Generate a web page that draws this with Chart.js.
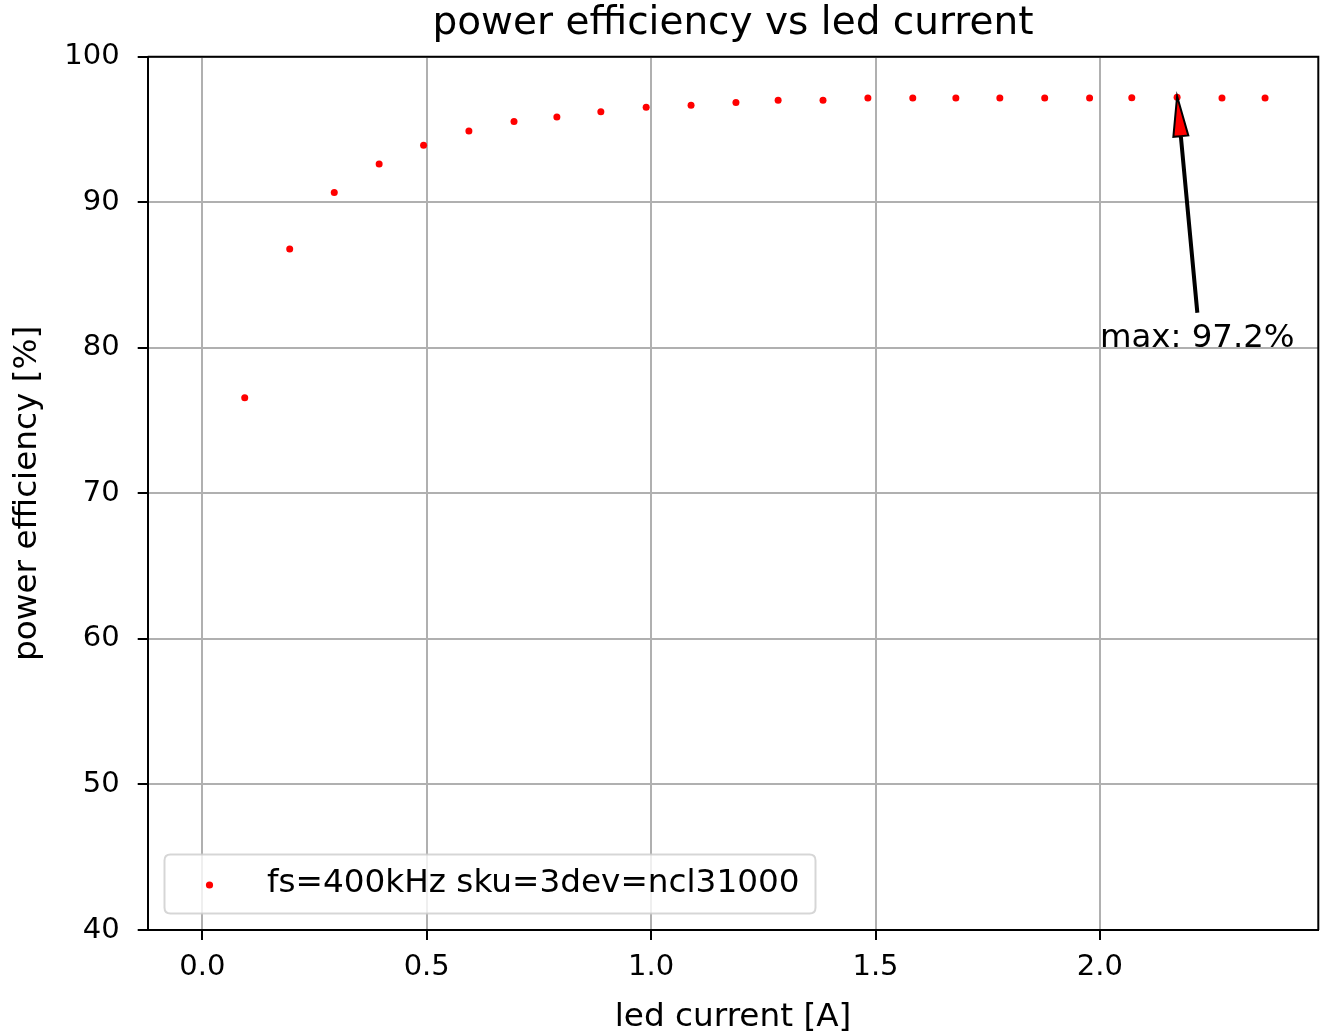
<!DOCTYPE html>
<html>
<head>
<meta charset="utf-8">
<script src="https://cdn.jsdelivr.net/npm/chart.js@4.4.1/dist/chart.umd.min.js"></script>
<style>
  html, body { margin: 0; padding: 0; background: #ffffff; }
  #wrap { width: 1324px; height: 1031px; position: relative; }
</style>
</head>
<body>
<div id="wrap"><canvas id="c" width="1324" height="1031"></canvas></div>
<script>
// ---- data ----
const chartTitle = 'power efficiency vs led current';
const xAxisTitle = 'led current [A]';
const yAxisTitle = 'power efficiency [%]';
const seriesLabel = 'fs=400kHz sku=3dev=ncl31000';
const ledCurrent = [0.0945, 0.1947, 0.294, 0.394, 0.493, 0.594, 0.6945, 0.790, 0.888, 0.989,
                    1.089, 1.189, 1.283, 1.383, 1.483, 1.583, 1.679, 1.777, 1.877, 1.977,
                    2.071, 2.172, 2.272, 2.368];
const efficiency = [76.57, 86.79, 90.67, 92.62, 93.92, 94.90, 95.54, 95.86, 96.21, 96.52,
                    96.67, 96.85, 97.01, 97.01, 97.17, 97.17, 97.16, 97.17, 97.17, 97.17,
                    97.18, 97.21, 97.17, 97.16];
const xTicks = [0.0, 0.5, 1.0, 1.5, 2.0];
const yTicks = [40, 50, 60, 70, 80, 90, 100];
const annotationTextPos = [2.0, 80];

const FONT = "'DejaVu Sans', 'Liberation Sans', sans-serif";
Chart.defaults.font.family = FONT;
Chart.defaults.color = '#000000';

const points = ledCurrent.map((x, i) => ({ x: x, y: efficiency[i] }));
let maxIdx = 0;
efficiency.forEach((v, i) => { if (v > efficiency[maxIdx]) maxIdx = i; });

const decorPlugin = {
  id: 'decor',
  afterDraw(chart) {
    const ctx = chart.ctx;
    const a = chart.chartArea;
    const xs = chart.scales.x, ys = chart.scales.y;
    ctx.save();
    // top & right spines
    ctx.strokeStyle = '#000000';
    ctx.lineWidth = 2;
    ctx.beginPath();
    ctx.moveTo(a.left, a.top); ctx.lineTo(a.right, a.top); ctx.lineTo(a.right, a.bottom);
    ctx.stroke();

    // title
    ctx.fillStyle = '#000000';
    ctx.textAlign = 'center';
    ctx.textBaseline = 'alphabetic';
    ctx.font = '39px ' + FONT;
    ctx.fillText(chartTitle, (a.left + a.right) / 2, 34);

    // x axis title
    ctx.font = '32.7px ' + FONT;
    ctx.fillText(xAxisTitle, (a.left + a.right) / 2, 1026);

    // y axis title
    ctx.save();
    ctx.translate(36, (a.top + a.bottom) / 2);
    ctx.rotate(-Math.PI / 2);
    ctx.textBaseline = 'alphabetic';
    ctx.fillText(yAxisTitle, 0, 0);
    ctx.restore();

    // annotation text
    const tx = xs.getPixelForValue(annotationTextPos[0]);
    const ty = ys.getPixelForValue(annotationTextPos[1]);
    ctx.font = '32.4px ' + FONT;
    ctx.textAlign = 'left';
    ctx.textBaseline = 'alphabetic';
    const label = 'max: ' + efficiency[maxIdx].toFixed(1) + '%';
    ctx.fillText(label, tx, ty - 1);
    const tw = ctx.measureText(label).width;

    // arrow
    const tailX = tx + tw / 2, tailY = ty - 36;
    const tipX = xs.getPixelForValue(ledCurrent[maxIdx]);
    const tipY = ys.getPixelForValue(efficiency[maxIdx]) - 1;
    const dx = tipX - tailX, dy = tipY - tailY;
    const len = Math.hypot(dx, dy);
    const ux = dx / len, uy = dy / len;
    const nx = -uy, ny = ux;
    const sw = 2.0, hw = 15, hl = 40;
    const bx = tipX - ux * hl, by = tipY - uy * hl;
    ctx.beginPath();
    ctx.moveTo(tailX + nx * sw / 2, tailY + ny * sw / 2);
    ctx.lineTo(bx + nx * sw / 2, by + ny * sw / 2);
    ctx.lineTo(bx + nx * hw / 2, by + ny * hw / 2);
    ctx.lineTo(tipX, tipY);
    ctx.lineTo(bx - nx * hw / 2, by - ny * hw / 2);
    ctx.lineTo(bx - nx * sw / 2, by - ny * sw / 2);
    ctx.lineTo(tailX - nx * sw / 2, tailY - ny * sw / 2);
    ctx.closePath();
    ctx.fillStyle = '#ff0000';
    ctx.fill();
    ctx.strokeStyle = '#000000';
    ctx.lineWidth = 2;
    ctx.lineJoin = 'miter';
    ctx.stroke();

    // legend
    const lx = 164.5, ly = 854.5, lw = 651, lh = 59, r = 6;
    ctx.beginPath();
    ctx.moveTo(lx + r, ly);
    ctx.lineTo(lx + lw - r, ly);
    ctx.quadraticCurveTo(lx + lw, ly, lx + lw, ly + r);
    ctx.lineTo(lx + lw, ly + lh - r);
    ctx.quadraticCurveTo(lx + lw, ly + lh, lx + lw - r, ly + lh);
    ctx.lineTo(lx + r, ly + lh);
    ctx.quadraticCurveTo(lx, ly + lh, lx, ly + lh - r);
    ctx.lineTo(lx, ly + r);
    ctx.quadraticCurveTo(lx, ly, lx + r, ly);
    ctx.closePath();
    ctx.fillStyle = 'rgba(255,255,255,0.8)';
    ctx.fill();
    ctx.strokeStyle = 'rgba(204,204,204,0.8)';
    ctx.lineWidth = 2;
    ctx.stroke();
    ctx.beginPath();
    ctx.arc(209.5, 885, 3.6, 0, Math.PI * 2);
    ctx.fillStyle = '#ff0000';
    ctx.fill();
    ctx.fillStyle = '#000000';
    ctx.font = '32.7px ' + FONT;
    ctx.textAlign = 'left';
    ctx.textBaseline = 'middle';
    ctx.fillText(seriesLabel, 267, 884);
    ctx.restore();
  }
};

new Chart(document.getElementById('c'), {
  type: 'scatter',
  data: {
    datasets: [{
      label: seriesLabel,
      data: points,
      backgroundColor: '#ff0000',
      borderColor: '#ff0000',
      borderWidth: 0,
      pointRadius: 3.5,
      pointHoverRadius: 3.5,
      showLine: false
    }]
  },
  options: {
    responsive: false,
    animation: false,
    events: [],
    layout: { padding: { top: 56.7, right: 5.7, left: 0, bottom: 0 } },
    plugins: { legend: { display: false }, title: { display: false }, tooltip: { enabled: false } },
    scales: {
      x: {
        type: 'linear',
        min: -0.1217,
        max: 2.4866,
        afterFit(s) { s.height = 101; },
        afterBuildTicks(s) { s.ticks = xTicks.map(v => ({ value: v })); },
        ticks: {
          font: { size: 29 },
          color: '#000000',
          padding: 10,
          maxRotation: 0,
          autoSkip: false,
          callback: v => v.toFixed(1)
        },
        grid: { color: '#b0b0b0', lineWidth: 2, tickLength: 10, tickColor: '#000000', tickWidth: 2, drawTicks: true },
        border: { display: true, color: '#000000', width: 2 }
      },
      y: {
        type: 'linear',
        min: 40,
        max: 100,
        afterFit(s) { s.width = 147.7; },
        afterBuildTicks(s) { s.ticks = yTicks.map(v => ({ value: v })); },
        ticks: {
          font: { size: 29 },
          color: '#000000',
          padding: 18,
          autoSkip: false,
          callback: v => String(v)
        },
        grid: { color: '#b0b0b0', lineWidth: 2, tickLength: 10, tickColor: '#000000', tickWidth: 2, drawTicks: true },
        border: { display: true, color: '#000000', width: 2 }
      }
    }
  },
  plugins: [decorPlugin]
});
</script>
</body>
</html>
